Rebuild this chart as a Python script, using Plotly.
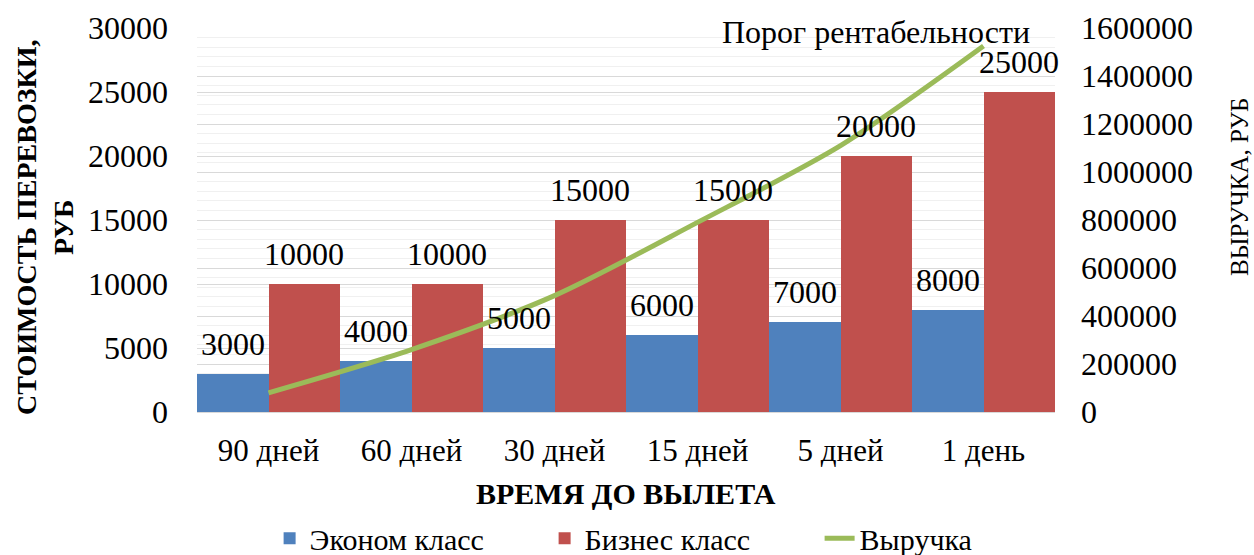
import plotly.graph_objects as go

categories = ["90 дней", "60 дней", "30 дней", "15 дней", "5 дней", "1 день"]
econom = [3000, 4000, 5000, 6000, 7000, 8000]
business = [10000, 10000, 15000, 15000, 20000, 25000]
revenue = [80000, 260000, 485000, 790000, 1110000, 1525000]

FONT = "Liberation Serif"
BLUE = "#4F81BD"
RED = "#C0504D"
GREEN = "#9BBB59"

idx = list(range(len(categories)))
x_econ = [i - 0.25 for i in idx]
x_bus = [i + 0.25 for i in idx]

fig = go.Figure()
fig.add_trace(go.Bar(x=x_econ, y=econom, width=0.5, name="Эконом класс",
                     marker=dict(color=BLUE, line=dict(width=0))))
fig.add_trace(go.Bar(x=x_bus, y=business, width=0.5, name="Бизнес класс",
                     marker=dict(color=RED, line=dict(width=0))))
fig.add_trace(go.Scatter(x=idx, y=revenue, name="Выручка", yaxis="y2", mode="lines",
                         line=dict(color=GREEN, width=5, shape="spline", smoothing=0.8)))

annotations = []
for xs, vals in ((x_econ, econom), (x_bus, business)):
    for xv, v in zip(xs, vals):
        annotations.append(dict(x=xv, y=v, xref="x", yref="y", text=str(v), showarrow=False,
                                xanchor="center", yanchor="bottom", yshift=10,
                                font=dict(family=FONT, size=32, color="black")))

annotations.append(dict(x=idx[-1], y=revenue[-1], xref="x", yref="y2",
                        text="Порог рентабельности", showarrow=False,
                        xanchor="center", yanchor="bottom", xshift=-108, yshift=-6,
                        font=dict(family=FONT, size=32, color="black")))

annotations.append(dict(x=0.5, y=-0.2135, xref="paper", yref="paper",
                        text="<b>ВРЕМЯ ДО ВЫЛЕТА</b>", showarrow=False,
                        xanchor="center", yanchor="middle",
                        font=dict(family=FONT, size=30, color="black")))
annotations.append(dict(x=-0.177, y=0.482, xref="paper", yref="paper",
                        text="<b>СТОИМОСТЬ ПЕРЕВОЗКИ,<br>РУБ</b>", showarrow=False,
                        textangle=-90, xanchor="center", yanchor="middle",
                        font=dict(family=FONT, size=28, color="black")))
annotations.append(dict(x=1.2156, y=0.586, xref="paper", yref="paper",
                        text="ВЫРУЧКА, РУБ", showarrow=False,
                        textangle=-90, xanchor="center", yanchor="middle",
                        font=dict(family=FONT, size=25, color="black")))

fig.update_layout(
    template="none",
    width=1254, height=555, autosize=False,
    margin=dict(l=197, r=199, t=28, b=143, autoexpand=False),
    plot_bgcolor="white", paper_bgcolor="white",
    barmode="overlay", bargap=0,
    font=dict(family=FONT, size=30, color="black"),
    xaxis=dict(range=[-0.5, 5.5], tickvals=idx, ticktext=categories, automargin=False,
               showgrid=False, zeroline=False, showline=False, ticks="",
               ticklabelstandoff=17, tickfont=dict(family=FONT, size=31, color="black")),
    yaxis=dict(range=[0, 30000], dtick=5000, tickformat="d", automargin=False,
               showgrid=True, gridcolor="#D9D9D9", gridwidth=1,
               zeroline=True, zerolinecolor="#D9D9D9", zerolinewidth=1, showline=False, ticks="",
               ticklabelstandoff=28, tickfont=dict(family=FONT, size=32, color="black")),
    yaxis2=dict(range=[0, 1600000], dtick=200000, tickformat="d", automargin=False,
                overlaying="y", side="right",
                showgrid=True, gridcolor="#D9D9D9", gridwidth=1, zeroline=False,
                showline=False, ticks="", ticklabelstandoff=25,
                tickfont=dict(family=FONT, size=32, color="black"),
                minor=dict(dtick=40000, showgrid=True, gridcolor="#F0F0F0", gridwidth=1)),
    legend=dict(orientation="h", xref="container", x=0.215, xanchor="left",
                yref="container", y=0.03, yanchor="middle",
                font=dict(family=FONT, size=30, color="black"), itemwidth=30,
                entrywidth=230, entrywidthmode="pixels",
                traceorder="normal", bgcolor="rgba(0,0,0,0)"),
    annotations=annotations,
    showlegend=True,
)

fig.write_html("out.html", config={"displayModeBar": False},
               post_script="document.body.style.margin='0';document.body.style.padding='0';")
